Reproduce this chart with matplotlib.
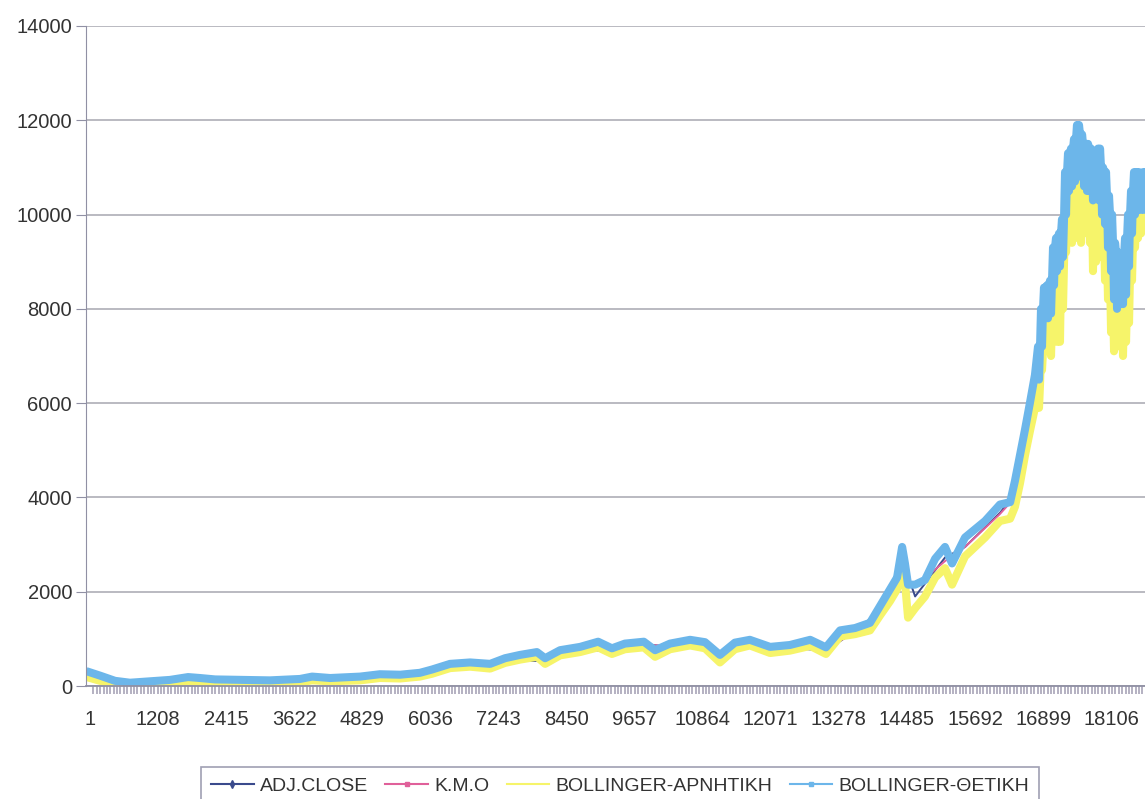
import numpy as np
import matplotlib
matplotlib.use("Agg")
import matplotlib.pyplot as plt
from matplotlib.lines import Line2D

plt.rcParams['font.family'] = ['Liberation Sans', 'DejaVu Sans']

# series labels
labels = ['ADJ.CLOSE', 'Κ.Μ.Ο', 'BOLLINGER-ΑΡΝΗΤΙΚΗ', 'BOLLINGER-ΘΕΤΙΚΗ']
xticks = [1, 1208, 2415, 3622, 4829, 6036, 7243, 8450, 9657, 10864,
          12071, 13278, 14485, 15692, 16899, 18106]
yticks = [0, 2000, 4000, 6000, 8000, 10000, 12000, 14000]

# bands, calm part
idx_a = [1, 180, 445, 710, 1065, 1420, 1740, 1950, 2220, 2660, 3190, 3725,
         3940, 4260, 4790, 5140, 5500, 5850, 6065, 6385, 6740, 7095, 7360,
         7625, 7925, 8070, 8335, 8690, 9010, 9255, 9485, 9820, 10020, 10285,
         10640, 10905, 11170, 11435, 11700, 12060, 12410, 12770, 13050,
         13300, 13565, 13830, 14010, 14185, 14310, 14400, 14450, 14505,
         14630, 14805, 14985, 15160, 15285, 15515, 15870, 16135, 16315,
         16400, 16490, 16580, 16665, 16755]
upper_a = [290, 220, 110, 70, 100, 130, 190, 170, 140, 130, 120, 150,
           200, 170, 200, 250, 240, 280, 350, 470, 500, 470, 590,
           660, 720, 590, 760, 830, 940, 800, 900, 940, 760, 900,
           980, 930, 660, 920, 980, 830, 870, 980, 820,
           1180, 1230, 1340, 1700, 2050, 2300, 2950, 2600, 2150,
           2150, 2250, 2700, 2950, 2600, 3150, 3500, 3850, 3900,
           4350, 4900, 5450, 6000, 6600]
lower_a = [170, 110, 30, 10, 40, 60, 110, 90, 70, 60, 50, 80,
           120, 100, 120, 170, 160, 200, 260, 380, 410, 370, 490,
           560, 620, 470, 650, 720, 820, 680, 780, 820, 620, 780,
           860, 800, 500, 780, 860, 700, 750, 850, 680,
           1050, 1100, 1180, 1500, 1800, 2050, 2450, 2200, 1450,
           1650, 1900, 2300, 2500, 2150, 2750, 3150, 3500, 3550,
           3800, 4300, 4900, 5400, 5900]

# volatile part: top / bottom of each band at every sample
idx_b = [16809, 16862, 16915, 16968, 17022, 17075, 17128, 17181, 17234,
         17288, 17341, 17394, 17447, 17500, 17554, 17607, 17660, 17713,
         17766, 17820, 17873, 17926, 17979, 18032, 18086, 18139, 18192,
         18245, 18298, 18352, 18405, 18458, 18511, 18564, 18618, 18671, 18724]
upper_top = [7200, 8000, 8450, 8500, 8600, 9300, 9500, 9600, 9900, 10900,
             11300, 11400, 11600, 11900, 11700, 11500, 11500, 11400, 11100,
             11300, 11400, 11000, 10900, 10400, 10000, 9400, 9200, 9000,
             9100, 9500, 10000, 10500, 10900, 10900, 10800, 10900, 10700]
upper_bot = [6500, 7200, 7800, 7800, 7900, 8500, 8800, 8900, 9100, 10000,
             10500, 10600, 10700, 10900, 10800, 10600, 10500, 10500, 10300,
             10400, 10300, 10000, 9800, 9300, 8800, 8200, 8000, 8100,
             8100, 8300, 8900, 9600, 10000, 10100, 10100, 10100, 10000]
lower_top = [6400, 7100, 7700, 7700, 7800, 8400, 8700, 8800, 9000, 9900,
             10400, 10500, 10600, 10800, 10600, 10500, 10400, 10300, 10200,
             10300, 10200, 9900, 9700, 9200, 8700, 8100, 7900, 8000,
             8000, 8200, 8800, 9500, 9900, 10000, 10000, 10000, 9900]
lower_bot = [5900, 6700, 7100, 7200, 7000, 7600, 7300, 7300, 8000, 9200,
             9600, 9400, 9500, 9800, 9400, 9600, 9700, 9400, 8800,
             9000, 9100, 9100, 8600, 8200, 7500, 7100, 7300, 7200,
             7000, 7300, 7700, 8600, 9300, 9500, 9600, 9700, 9700]

# close and moving average (mostly hidden under the bands)
idx_c = [1, 710, 1740, 2660, 3725, 4790, 5850, 6740, 7360, 8070, 8690, 9255,
         9820, 10285, 10905, 11170, 11700, 12410, 13050, 13565, 14010, 14400,
         14630, 15160, 15515, 16135, 16400, 16665, 16915, 17128, 17341, 17500,
         17660, 17820, 17979, 18139, 18298, 18458, 18618, 18724]
close = [230, 40, 150, 95, 115, 160, 240, 455, 540, 530, 775, 740,
         880, 840, 865, 580, 920, 810, 750, 1165, 1600, 2700,
         1900, 2725, 2950, 3675, 4075, 5700, 8100, 8400, 10200, 10700,
         10500, 10100, 10000, 9000, 8200, 9600, 10300, 10300]
kmo = [240, 50, 140, 100, 110, 150, 230, 440, 530, 560, 760, 760,
       870, 850, 870, 650, 900, 820, 780, 1150, 1550, 2400,
       2100, 2650, 2950, 3650, 4000, 5500, 7900, 8500, 9900, 10600,
       10600, 10300, 9900, 9200, 8500, 9300, 10000, 10300]

colors = ['#3a4a8c', '#e0609a', '#f6f46a', '#6cb6ea']

# interleave top/bottom so the noisy band looks filled
idx_zz = []
up_zz = []
lo_zz = []
for i in range(len(idx_b)):
    idx_zz += [idx_b[i], idx_b[i] + 18, idx_b[i] + 36]
    up_zz += [upper_top[i], upper_bot[i], upper_top[i]]
    lo_zz += [lower_top[i], lower_bot[i], lower_top[i]]

idx_up = idx_a + idx_zz
up = upper_a + up_zz
lo = lower_a + lo_zz

fig = plt.figure(figsize=(11.45, 7.99), dpi=100)
ax = fig.add_axes([0.0751, 0.1414, 0.9249, 0.8261])

ax.plot(idx_c, close, color=colors[0], lw=1.4)
ax.plot(idx_c, kmo, color=colors[1], lw=1.4)
ax.plot(idx_up, lo, color=colors[2], lw=5.8, solid_joinstyle='round')
ax.plot(idx_up, up, color=colors[3], lw=5.8, solid_joinstyle='round')

ax.set_xlim(-70, 18706)
ax.set_ylim(0, 14000)
ax.set_yticks(yticks)
ax.set_xticks(xticks)
ax.set_xticks(np.arange(1, 18706, 60), minor=True)
ax.grid(axis='y', color='#b4b4bc', lw=1.3)
ax.set_axisbelow(True)

for s in ['top', 'right']:
    ax.spines[s].set_visible(False)
ax.spines['left'].set_color('#9090a4')
ax.spines['bottom'].set_color('#9090a4')
ax.spines['bottom'].set_linewidth(1.3)

ax.tick_params(axis='y', length=7, color='#9090a4', labelsize=14.5,
               labelcolor='#333333', pad=3)
ax.tick_params(axis='x', which='major', length=0, labelsize=14.5,
               labelcolor='#333333', pad=17)
ax.tick_params(axis='x', which='minor', length=6, width=1.2,
               color='#a8a4b8', direction='out')

handles = [
    Line2D([], [], color=colors[0], lw=1.5, marker='d', markersize=4),
    Line2D([], [], color=colors[1], lw=1.5, marker='s', markersize=3),
    Line2D([], [], color=colors[2], lw=1.5),
    Line2D([], [], color=colors[3], lw=1.5, marker='s', markersize=3),
]
leg = fig.legend(handles, labels, loc='upper center', ncol=4,
                 bbox_to_anchor=(0.5415, 0.052), fontsize=14,
                 frameon=True, fancybox=False, edgecolor='#8888a0',
                 handlelength=2.2, handletextpad=0.3, columnspacing=0.9,
                 borderpad=0.5)
leg.get_frame().set_linewidth(1.2)
for t in leg.get_texts():
    t.set_color('#333333')

fig.savefig('out.png', dpi=100)
